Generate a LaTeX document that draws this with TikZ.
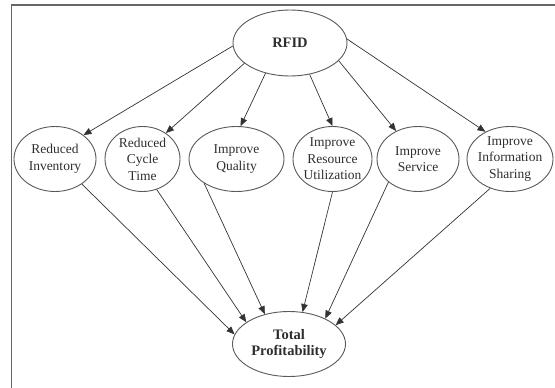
\documentclass[tikz,border=0pt]{standalone}
\usepackage{fontspec}
\setmainfont{Liberation Serif}
\usetikzlibrary{shapes.geometric,arrows.meta}
\begin{document}
\begin{tikzpicture}[x=1pt,y=-1pt,
  ell/.style={ellipse,draw=black!65,line width=0.9pt,inner sep=-20pt,text=black!82,align=center,
    font=\fontsize{13.5}{16.5}\selectfont},
  big/.style={ell,font=\fontsize{14.5}{16.5}\selectfont\bfseries},
  arr/.style={draw=black!80,line width=0.7pt,-{Triangle[length=8pt,width=6.5pt]}},
  frame/.style={draw=black!60,line width=1.2pt}
]
\useasboundingbox (0,0) rectangle (555,388);
\draw[frame] (11.5,388) -- (11.5,5) -- (555,5);

\node[big,minimum width=114pt,minimum height=66pt] (rfid) at (290,43) {RFID};
\node[ell,minimum width=82pt,minimum height=65pt] (ri) at (55,159) {Reduced\\Inventory};
\node[ell,minimum width=75pt,minimum height=65pt] (rc) at (142.5,159) {Reduced\\Cycle\\Time};
\node[ell,minimum width=95pt,minimum height=65pt] (iq) at (236.5,159) {Improve\\Quality};
\node[ell,minimum width=79pt,minimum height=65pt] (iru) at (332.5,159) {Improve\\Resource\\Utilization};
\node[ell,minimum width=82pt,minimum height=65pt] (is) at (418,159) {Improve\\Service};
\node[ell,minimum width=86pt,minimum height=65pt] (iis) at (510,159) {Improve\\Information\\Sharing};
\node[big,minimum width=113pt,minimum height=65pt] (tp) at (289,344) {Total\\Profitability};

\draw[arr] (rfid.183) -- (ri.40);
\draw[arr] (rfid.204) -- (rc.48);
\draw[arr] (rfid.231) -- (iq.83);
\draw[arr] (rfid.302) -- (iru.90);
\draw[arr] (rfid.340) -- (is.128);
\draw[arr] (rfid.4) -- (iis.132);

\draw[arr] (ri.-43) -- (tp.170);
\draw[arr] (rc.-65) -- (tp.153);
\draw[arr] (iq.217) -- (tp.129);
\draw[arr] (iru.270) -- (tp.67);
\draw[arr] (is.218) -- (tp.35);
\draw[arr] (iis.236) -- (tp.22);
\end{tikzpicture}
\end{document}
